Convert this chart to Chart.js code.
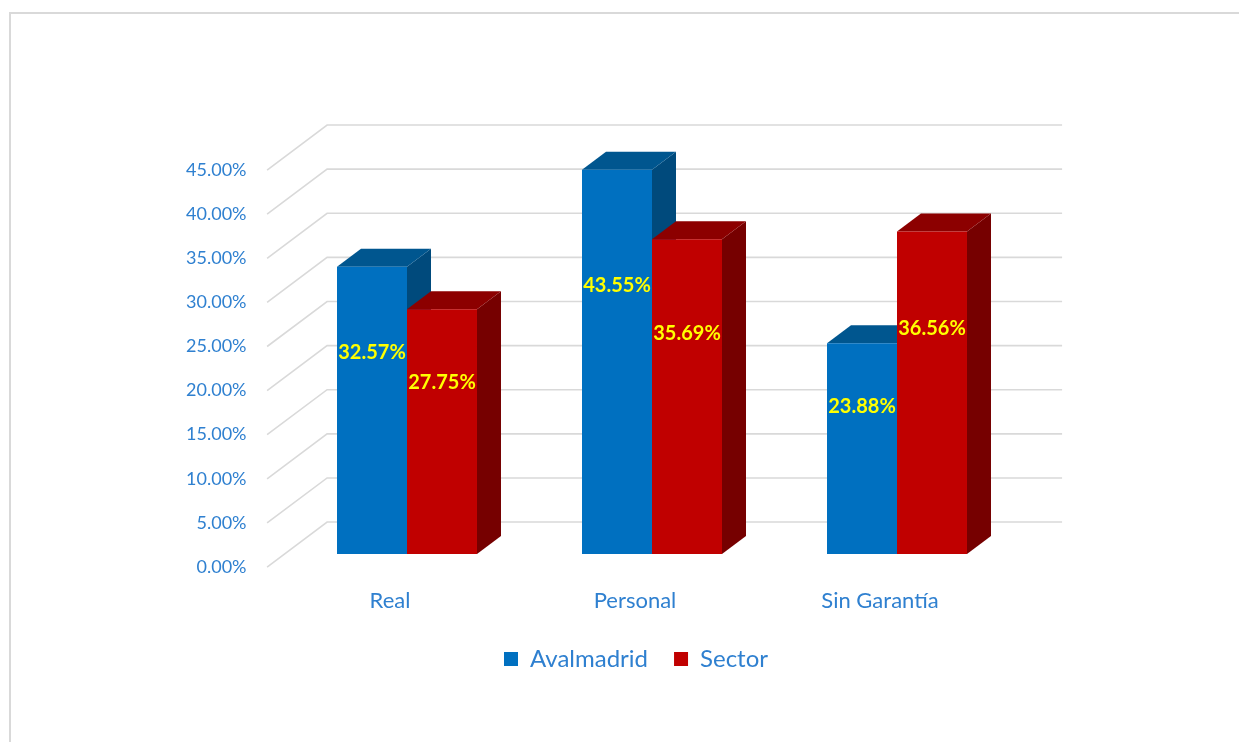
<!DOCTYPE html>
<html>
<head>
<meta charset="utf-8">
<script src="https://cdn.jsdelivr.net/npm/chart.js@4.4.1/dist/chart.umd.min.js"></script>
<style>
  html, body { margin: 0; padding: 0; background: #fff; }
  #wrap { position: relative; width: 1239px; height: 742px; overflow: hidden; }
  #frame {
    position: absolute; left: 9px; top: 12px; width: 1300px; height: 800px;
    border-top: 2px solid #d9d9d9; border-left: 2px solid #d9d9d9;
  }
  canvas { position: absolute; left: 0; top: 0; }
</style>
</head>
<body>
<div id="wrap">
  <div id="frame"></div>
  <canvas id="chart" width="1239" height="742"></canvas>
</div>
<script>
    // Categories and series (percent)
    const categories = ['Real', 'Personal', 'Sin Garantía'];
    const seriesNames = ['Avalmadrid', 'Sector'];
    const avalmadrid = [32.57, 43.55, 23.88];
    const sector = [27.75, 35.69, 36.56];
    const yTicks = [0, 5, 10, 15, 20, 25, 30, 35, 40, 45];

    // Face colors: front, top, side
    const frontColors = ['#0070C0', '#C00000'];
    const topColors = ['#00568F', '#8C0000'];
    const sideColors = ['#004A7C', '#760000'];
    const textBlue = '#2F80D0';

    // Fake perspective: full floor depth and how far in the bars sit
    const DEPTH_X = 60;
    const DEPTH_Y = -45;
    const FRONT_T = 0.29;   // bar front plane, measured from the floor front edge
    const BAR_T = 0.40;     // bar depth as a fraction of the floor depth
    const LABEL_POS = 0.7;  // value labels sit at this fraction of the bar height

    const box3d = {
        id: 'box3d',
        beforeDatasetsDraw(chart) {
            const ctx = chart.ctx;
            const area = chart.chartArea;
            const y = chart.scales.y;

            // back wall + floor diagonals
            const fx = -FRONT_T * DEPTH_X, fy = -FRONT_T * DEPTH_Y;
            const bx = (1 - FRONT_T) * DEPTH_X, by = (1 - FRONT_T) * DEPTH_Y;
            ctx.save();
            ctx.strokeStyle = '#d9d9d9';
            ctx.lineWidth = 1.6;
            yTicks.forEach(v => {
                const py = y.getPixelForValue(v);
                ctx.beginPath();
                ctx.moveTo(area.left + fx, py + fy);
                ctx.lineTo(area.left + bx, py + by);
                ctx.lineTo(area.right + bx, py + by);
                ctx.stroke();
            });

            // top and side faces of each bar
            const dx = BAR_T * DEPTH_X, dy = BAR_T * DEPTH_Y;
            chart.data.datasets.forEach((ds, i) => {
                const meta = chart.getDatasetMeta(i);
                meta.data.forEach(bar => {
                    const l = bar.x - bar.width / 2;
                    const r = bar.x + bar.width / 2;
                    const t = bar.y;
                    const b = bar.base;

                    ctx.fillStyle = sideColors[i];
                    ctx.beginPath();
                    ctx.moveTo(r, t);
                    ctx.lineTo(r + dx, t + dy);
                    ctx.lineTo(r + dx, b + dy);
                    ctx.lineTo(r, b);
                    ctx.closePath();
                    ctx.fill();

                    ctx.fillStyle = topColors[i];
                    ctx.beginPath();
                    ctx.moveTo(l, t);
                    ctx.lineTo(l + dx, t + dy);
                    ctx.lineTo(r + dx, t + dy);
                    ctx.lineTo(r, t);
                    ctx.closePath();
                    ctx.fill();
                });
            });
            ctx.restore();
        },
        afterDatasetsDraw(chart) {
            const ctx = chart.ctx;
            const y = chart.scales.y;
            ctx.save();
            ctx.font = 'bold 20px Lato';
            ctx.fillStyle = '#FFFF00';
            ctx.textAlign = 'center';
            ctx.textBaseline = 'middle';
            chart.data.datasets.forEach((ds, i) => {
                chart.getDatasetMeta(i).data.forEach((bar, j) => {
                    const v = ds.data[j];
                    ctx.fillText(v.toFixed(2) + '%', bar.x, y.getPixelForValue(v * LABEL_POS));
                });
            });
            ctx.restore();
        }
    };

    new Chart(document.getElementById('chart'), {
        type: 'bar',
        data: {
            labels: categories,
            datasets: [
                {
                    label: seriesNames[0],
                    data: avalmadrid,
                    backgroundColor: frontColors[0],
                    borderWidth: 0
                },
                {
                    label: seriesNames[1],
                    data: sector,
                    backgroundColor: frontColors[1],
                    borderWidth: 0
                }
            ]
        },
        options: {
            responsive: false,
            animation: false,
            layout: {
                padding: { left: 150, right: 117, top: 157, bottom: 61 }
            },
            datasets: {
                bar: {
                    barPercentage: 1,
                    categoryPercentage: 0.5714
                }
            },
            plugins: {
                tooltip: { enabled: false },
                legend: {
                    position: 'bottom',
                    labels: {
                        color: textBlue,
                        font: { family: 'Lato', size: 24 },
                        boxWidth: 14,
                        boxHeight: 14,
                        padding: 26
                    }
                }
            },
            scales: {
                x: {
                    grid: { display: false, drawTicks: false },
                    border: { display: false },
                    ticks: {
                        color: textBlue,
                        font: { family: 'Lato', size: 22 },
                        padding: 34,
                        labelOffset: -17
                    },
                    afterFit(scale) { scale.height = 67; }
                },
                y: {
                    min: 0,
                    max: 45,
                    grid: { display: false, drawTicks: false },
                    border: { display: false },
                    ticks: {
                        stepSize: 5,
                        color: textBlue,
                        font: { family: 'Lato', size: 18 },
                        padding: 38,
                        labelOffset: 13,
                        callback: v => v.toFixed(2) + '%'
                    },
                    afterFit(scale) { scale.width = 134.5; }
                },
                // empty right-hand spacer so the back wall has room
                spacer: {
                    position: 'right',
                    grid: { display: false, drawTicks: false },
                    border: { display: false },
                    ticks: { display: false },
                    afterFit(scale) { scale.width = 102.5; }
                }
            }
        },
        plugins: [box3d]
    });
</script>
</body>
</html>
